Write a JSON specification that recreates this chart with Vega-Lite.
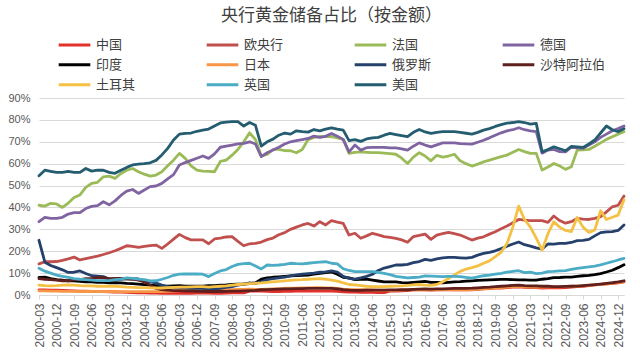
{
  "$schema": "https://vega.github.io/schema/vega-lite/v6.json",
  "autosize": {"type": "none"},
  "width": 585,
  "height": 197,
  "padding": {"left": 39, "top": 98, "right": 16, "bottom": 68},
  "background": "white",
  "title": {
    "text": "央行黄金储备占比（按金额）",
    "font": "Noto Sans CJK SC",
    "fontSize": 17,
    "fontWeight": "normal",
    "color": "#404040",
    "anchor": "middle",
    "frame": "group",
    "offset": 10
  },
  "config": {
    "view": {"stroke": null},
    "font": "Noto Sans CJK SC"
  },
  "data": {
    "values": [
      {"d":"2000-03","中国":2.3,"欧央行":14.2,"法国":41,"德国":33.5,"印度":8,"日本":1.9,"俄罗斯":25,"沙特阿拉伯":7.5,"土耳其":4.5,"英国":12.2,"美国":54.5},
      {"d":"2000-06","中国":2.3,"欧央行":15.2,"法国":40.6,"德国":35.5,"印度":8.2,"日本":1.9,"俄罗斯":15,"沙特阿拉伯":7.2,"土耳其":4.3,"英国":10.9,"美国":57},
      {"d":"2000-09","中国":2.2,"欧央行":15.2,"法国":41.9,"德国":35,"印度":7.5,"日本":1.8,"俄罗斯":13.5,"沙特阿拉伯":7,"土耳其":4.2,"英国":10,"美国":56.5},
      {"d":"2000-12","中国":2.2,"欧央行":15.3,"法国":41.6,"德国":35,"印度":7,"日本":1.8,"俄罗斯":12.5,"沙特阿拉伯":6.8,"土耳其":4.3,"英国":9.1,"美国":56},
      {"d":"2001-03","中国":2.1,"欧央行":15.8,"法国":40,"德国":35.5,"印度":6.8,"日本":1.7,"俄罗斯":11.5,"沙特阿拉伯":6.5,"土耳其":4.5,"英国":8.5,"美国":56},
      {"d":"2001-06","中国":2.0,"欧央行":16.5,"法国":42,"德国":37,"印度":6.5,"日本":1.7,"俄罗斯":10.3,"沙特阿拉伯":6.5,"土耳其":4.6,"英国":8,"美国":56.5},
      {"d":"2001-09","中国":1.9,"欧央行":17.3,"法国":44.5,"德国":37.6,"印度":6.5,"日本":1.7,"俄罗斯":10.4,"沙特阿拉伯":7,"土耳其":4.5,"英国":7.5,"美国":56},
      {"d":"2001-12","中国":1.8,"欧央行":16,"法国":45.7,"德国":37.6,"印度":6.2,"日本":1.6,"俄罗斯":11,"沙特阿拉伯":7,"土耳其":4.3,"英国":7.2,"美国":56},
      {"d":"2002-03","中国":1.8,"欧央行":16.6,"法国":49.2,"德国":39.5,"印度":6,"日本":1.6,"俄罗斯":9.8,"沙特阿拉伯":7.5,"土耳其":4.2,"英国":7,"美国":57.8},
      {"d":"2002-06","中国":1.7,"欧央行":17.2,"法国":51,"德国":40.5,"印度":6,"日本":1.6,"俄罗斯":8.8,"沙特阿拉伯":7.5,"土耳其":4.2,"英国":6.8,"美国":56.6},
      {"d":"2002-09","中国":1.6,"欧央行":17.8,"法国":51.5,"德国":40.8,"印度":5.8,"日本":1.6,"俄罗斯":8.6,"沙特阿拉伯":8,"土耳其":4,"英国":6.6,"美国":57},
      {"d":"2002-12","中国":1.5,"欧央行":18.5,"法国":54,"德国":42.6,"印度":5.8,"日本":1.6,"俄罗斯":8.4,"沙特阿拉伯":7.8,"土耳其":4,"英国":6.6,"美国":57},
      {"d":"2003-03","中国":1.4,"欧央行":19.3,"法国":54.3,"德国":41.2,"印度":5.6,"日本":1.6,"俄罗斯":7.3,"沙特阿拉伯":7.5,"土耳其":4,"英国":6.6,"美国":56},
      {"d":"2003-06","中国":1.3,"欧央行":20.2,"法国":53.3,"德国":43,"印度":5.6,"日本":1.6,"俄罗斯":7,"沙特阿拉伯":7.6,"土耳其":4,"英国":7,"美国":55.6},
      {"d":"2003-09","中国":1.3,"欧央行":21.3,"法国":55.5,"德国":45.5,"印度":5.5,"日本":1.5,"俄罗斯":7.2,"沙特阿拉伯":7.6,"土耳其":3.8,"英国":7.3,"美国":57},
      {"d":"2003-12","中国":1.2,"欧央行":22.5,"法国":57,"德国":47.5,"印度":5.3,"日本":1.5,"俄罗斯":7.4,"沙特阿拉伯":7.4,"土耳其":3.6,"英国":7.8,"美国":58.3},
      {"d":"2004-03","中国":1.1,"欧央行":22.2,"法国":57.8,"德国":48.2,"印度":5.2,"日本":1.5,"俄罗斯":7.5,"沙特阿拉伯":7.2,"土耳其":3.5,"英国":7.6,"美国":59.4},
      {"d":"2004-06","中国":1.0,"欧央行":21.8,"法国":56.3,"德国":46.4,"印度":5,"日本":1.5,"俄罗斯":7.3,"沙特阿拉伯":6.8,"土耳其":3.4,"英国":7.3,"美国":59.8},
      {"d":"2004-09","中国":1.0,"欧央行":22.2,"法国":55.2,"德国":48,"印度":4.7,"日本":1.5,"俄罗斯":6.5,"沙特阿拉伯":6,"土耳其":3.4,"英国":7,"美国":60},
      {"d":"2004-12","中国":0.9,"欧央行":22.6,"法国":54.3,"德国":49.5,"印度":4.5,"日本":1.5,"俄罗斯":6,"沙特阿拉伯":4.5,"土耳其":3.3,"英国":6.4,"美国":60.4},
      {"d":"2005-03","中国":0.9,"欧央行":22.8,"法国":54.8,"德国":49.8,"印度":4.3,"日本":1.5,"俄罗斯":5.5,"沙特阿拉伯":3,"土耳其":3.2,"英国":6.5,"美国":61.5},
      {"d":"2005-06","中国":0.8,"欧央行":21.3,"法国":56.3,"德国":51,"印度":4,"日本":1.6,"俄罗斯":4.5,"沙特阿拉伯":2.5,"土耳其":3.2,"英国":7.2,"美国":64},
      {"d":"2005-09","中国":0.8,"欧央行":23.3,"法国":59,"德国":53,"印度":4,"日本":1.7,"俄罗斯":3.8,"沙特阿拉伯":2.2,"土耳其":3.4,"英国":8,"美国":67},
      {"d":"2005-12","中国":0.8,"欧央行":25.5,"法国":61.6,"德国":55,"印度":4.2,"日本":1.8,"俄罗斯":3.5,"沙特阿拉伯":2,"土耳其":3.5,"英国":9,"美国":70.8},
      {"d":"2006-03","中国":0.8,"欧央行":27.7,"法国":64.7,"德国":59.4,"印度":4.3,"日本":2.0,"俄罗斯":3.5,"沙特阿拉伯":2,"土耳其":3.6,"英国":9.5,"美国":73.5},
      {"d":"2006-06","中国":0.8,"欧央行":26.2,"法国":62.4,"德国":60.5,"印度":4.1,"日本":2.1,"俄罗斯":3.2,"沙特阿拉伯":1.8,"土耳其":3.6,"英国":9.6,"美国":73.8},
      {"d":"2006-09","中国":0.8,"欧央行":25.2,"法国":59,"德国":61.5,"印度":4,"日本":2.1,"俄罗斯":3,"沙特阿拉伯":1.8,"土耳其":3.7,"英国":9.6,"美国":74},
      {"d":"2006-12","中国":0.9,"欧央行":25.2,"法国":57,"德国":62.5,"印度":4,"日本":2.2,"俄罗斯":3,"沙特阿拉伯":1.7,"土耳其":3.8,"英国":9.6,"美国":74.8},
      {"d":"2007-03","中国":0.9,"欧央行":25.2,"法国":56.6,"德国":63.5,"印度":4.1,"日本":2.3,"俄罗斯":3,"沙特阿拉伯":1.7,"土耳其":3.8,"英国":9.5,"美国":75.3},
      {"d":"2007-06","中国":0.9,"欧央行":23.4,"法国":56.5,"德国":62.4,"印度":4.3,"日本":2.2,"俄罗斯":2.8,"沙特阿拉伯":1.6,"土耳其":3.6,"英国":8.4,"美国":75.8},
      {"d":"2007-09","中国":0.8,"欧央行":25.6,"法国":56.3,"德国":64.5,"印度":4.3,"日本":2.2,"俄罗斯":2.8,"沙特阿拉伯":1.6,"土耳其":3.8,"英国":9.8,"美国":77.2},
      {"d":"2007-12","中国":0.8,"欧央行":26,"法国":61,"德国":67.5,"印度":4.5,"日本":2.3,"俄罗斯":3,"沙特阿拉伯":1.6,"土耳其":4,"英国":11,"美国":78.6},
      {"d":"2008-03","中国":0.9,"欧央行":26.5,"法国":61.6,"德国":68,"印度":4.6,"日本":2.4,"俄罗斯":3.5,"沙特阿拉伯":1.7,"土耳其":4.2,"英国":11.6,"美国":79},
      {"d":"2008-06","中国":1.0,"欧央行":26.7,"法国":63.9,"德国":68.5,"印度":4.8,"日本":2.5,"俄罗斯":3.8,"沙特阿拉伯":1.8,"土耳其":4.5,"英国":13,"美国":79.2},
      {"d":"2008-09","中国":1.0,"欧央行":24.5,"法国":66.5,"德国":69,"印度":5,"日本":2.6,"俄罗斯":4.5,"沙特阿拉伯":1.8,"土耳其":4.8,"英国":14,"美国":79.2},
      {"d":"2008-12","中国":1.0,"欧央行":22.5,"法国":70,"德国":69.3,"印度":5,"日本":2.6,"俄罗斯":5,"沙特阿拉伯":1.9,"土耳其":5,"英国":14.3,"美国":77.2},
      {"d":"2009-03","中国":1.8,"欧央行":23.4,"法国":74.1,"德国":70,"印度":5.2,"日本":2.7,"俄罗斯":5.5,"沙特阿拉伯":2,"土耳其":5.2,"英国":14.5,"美国":78.8},
      {"d":"2009-06","中国":1.8,"欧央行":23.6,"法国":71,"德国":69,"印度":5.5,"日本":2.6,"俄罗斯":5.3,"沙特阿拉伯":2.1,"土耳其":5.3,"英国":13.2,"美国":77.5},
      {"d":"2009-09","中国":1.8,"欧央行":24.2,"法国":63.5,"德国":63.2,"印度":7.2,"日本":2.6,"俄罗斯":6,"沙特阿拉伯":2.4,"土耳其":5.5,"英国":11.9,"美国":68},
      {"d":"2009-12","中国":1.7,"欧央行":25.3,"法国":64.2,"德国":65,"印度":7.8,"日本":2.7,"俄罗斯":7,"沙特阿拉伯":2.5,"土耳其":5.8,"英国":13.7,"美国":70},
      {"d":"2010-03","中国":1.6,"欧央行":26,"法国":66.5,"德国":66.2,"印度":8.1,"日本":2.8,"俄罗斯":7.5,"沙特阿拉伯":2.6,"土耳其":6,"英国":13.5,"美国":71.2},
      {"d":"2010-06","中国":1.6,"欧央行":27.5,"法国":66.5,"德国":67.5,"印度":8.3,"日本":2.9,"俄罗斯":7.8,"沙特阿拉伯":2.7,"土耳其":6.2,"英国":13.7,"美国":73},
      {"d":"2010-09","中国":1.7,"欧央行":28.5,"法国":66,"德国":69,"印度":8.5,"日本":3.0,"俄罗斯":8.2,"沙特阿拉伯":2.8,"土耳其":6.5,"英国":14,"美国":74},
      {"d":"2010-12","中国":1.7,"欧央行":30,"法国":65.9,"德国":70,"印度":8.7,"日本":3.1,"俄罗斯":8.7,"沙特阿拉伯":2.8,"土耳其":6.7,"英国":14.5,"美国":73.5},
      {"d":"2011-03","中国":1.8,"欧央行":31,"法国":65,"德国":70.5,"印度":8.9,"日本":3.1,"俄罗斯":9.2,"沙特阿拉伯":2.9,"土耳其":6.9,"英国":14.3,"美国":75},
      {"d":"2011-06","中国":1.8,"欧央行":32,"法国":66.5,"德国":71,"印度":9,"日本":3.2,"俄罗斯":9.5,"沙特阿拉伯":2.9,"土耳其":7,"英国":14.2,"美国":74.6},
      {"d":"2011-09","中国":1.8,"欧央行":32.7,"法国":71,"德国":71.5,"印度":9.1,"日本":3.3,"俄罗斯":9.8,"沙特阿拉伯":3,"土耳其":7.2,"英国":14.5,"美国":74.4},
      {"d":"2011-12","中国":1.8,"欧央行":31.5,"法国":72,"德国":72.6,"印度":9.5,"日本":3.4,"俄罗斯":10,"沙特阿拉伯":3,"土耳其":7.4,"英国":14.8,"美国":75.6},
      {"d":"2012-03","中国":1.8,"欧央行":33.5,"法国":72.3,"德国":72,"印度":9.9,"日本":3.4,"俄罗斯":10.4,"沙特阿拉伯":3,"土耳其":7.5,"英国":15,"美国":75},
      {"d":"2012-06","中国":1.8,"欧央行":32,"法国":72.5,"德国":72.5,"印度":10.2,"日本":3.3,"俄罗斯":10.6,"沙特阿拉伯":3,"土耳其":7.2,"英国":15.2,"美国":75.8},
      {"d":"2012-09","中国":1.8,"欧央行":34,"法国":72.3,"德国":73.8,"印度":10.5,"日本":3.2,"俄罗斯":11,"沙特阿拉伯":3,"土耳其":6.8,"英国":14.5,"美国":76.4},
      {"d":"2012-12","中国":1.7,"欧央行":33.3,"法国":71.8,"德国":72.5,"印度":9.5,"日本":3.0,"俄罗斯":10.5,"沙特阿拉伯":2.8,"土耳其":6.3,"英国":14.2,"美国":75.8},
      {"d":"2013-03","中国":1.4,"欧央行":32.7,"法国":71.1,"德国":71.1,"印度":8.1,"日本":2.7,"俄罗斯":8.5,"沙特阿拉伯":2.4,"土耳其":5.5,"英国":12,"美国":75.3},
      {"d":"2013-06","中国":1.3,"欧央行":27.4,"法国":64.7,"德国":65.4,"印度":7.8,"日本":2.6,"俄罗斯":7.6,"沙特阿拉伯":2.2,"土耳其":4.8,"英国":11.2,"美国":70.5},
      {"d":"2013-09","中国":1.3,"欧央行":28.2,"法国":65.2,"德国":68.5,"印度":7,"日本":2.5,"俄罗斯":7.2,"沙特阿拉伯":2.1,"土耳其":4.6,"英国":10.7,"美国":71},
      {"d":"2013-12","中国":1.2,"欧央行":25.9,"法国":65.4,"德国":66.2,"印度":7.2,"日本":2.5,"俄罗斯":7.8,"沙特阿拉伯":2.1,"土耳其":4.3,"英国":10.7,"美国":70.2},
      {"d":"2014-03","中国":1.2,"欧央行":27,"法国":65.2,"德国":67.3,"印度":7.2,"日本":2.4,"俄罗斯":8.5,"沙特阿拉伯":2.2,"土耳其":4,"英国":10.7,"美国":71.3},
      {"d":"2014-06","中国":1.2,"欧央行":28.2,"法国":65,"德国":67.4,"印度":6.8,"日本":2.3,"俄罗斯":9.5,"沙特阿拉伯":2.2,"土耳其":3.8,"英国":10.7,"美国":71.8},
      {"d":"2014-09","中国":1.1,"欧央行":27.5,"法国":65,"德国":67.4,"印度":6.4,"日本":2.2,"俄罗斯":11.2,"沙特阿拉伯":2.2,"土耳其":3.8,"英国":10.3,"美国":72},
      {"d":"2014-12","中国":1.1,"欧央行":26.7,"法国":64.8,"德国":67.4,"印度":6,"日本":2.2,"俄罗斯":12.3,"沙特阿拉伯":2.2,"土耳其":3.8,"英国":9.9,"美国":73},
      {"d":"2015-03","中国":1.8,"欧央行":26.3,"法国":64.6,"德国":67.2,"印度":6,"日本":2.1,"俄罗斯":13,"沙特阿拉伯":2.3,"土耳其":4,"英国":9.3,"美国":73.8},
      {"d":"2015-06","中国":1.8,"欧央行":25.9,"法国":64.3,"德国":67.2,"印度":6,"日本":2.1,"俄罗斯":13.7,"沙特阿拉伯":2.3,"土耳其":4.1,"英国":8.5,"美国":73.3},
      {"d":"2015-09","中国":1.9,"欧央行":25.2,"法国":62.5,"德国":66.8,"印度":5.7,"日本":2.2,"俄罗斯":13.7,"沙特阿拉伯":2.4,"土耳其":4.2,"英国":8.2,"美国":72.8},
      {"d":"2015-12","中国":2.0,"欧央行":24.1,"法国":60.1,"德国":66.2,"印度":5.5,"日本":2.3,"俄罗斯":14,"沙特阿拉伯":2.4,"土耳其":4.4,"英国":7.8,"美国":72.3},
      {"d":"2016-03","中国":2.3,"欧央行":26.7,"法国":63,"德国":68,"印度":5.8,"日本":2.4,"俄罗斯":14.8,"沙特阿拉伯":2.6,"土耳其":4.6,"英国":8,"美国":74.3},
      {"d":"2016-06","中国":2.4,"欧央行":27.2,"法国":65,"德国":69.5,"印度":6,"日本":2.5,"俄罗斯":15.3,"沙特阿拉伯":2.7,"土耳其":4.8,"英国":8.2,"美国":75.6},
      {"d":"2016-09","中国":2.3,"欧央行":27.8,"法国":63.5,"德国":68.5,"印度":6.2,"日本":2.3,"俄罗斯":16.3,"沙特阿拉伯":2.8,"土耳其":4.5,"英国":8.7,"美国":74.5},
      {"d":"2016-12","中国":2.2,"欧央行":25.4,"法国":61.3,"德国":67.7,"印度":5.8,"日本":2.3,"俄罗斯":15.8,"沙特阿拉伯":2.7,"土耳其":4.4,"英国":8.6,"美国":73.8},
      {"d":"2017-03","中国":2.3,"欧央行":27.4,"法国":63.8,"德国":68.6,"印度":5.7,"日本":2.4,"俄罗斯":16.5,"沙特阿拉伯":2.8,"土耳其":4.8,"英国":8.5,"美国":74.3},
      {"d":"2017-06","中国":2.3,"欧央行":28,"法国":63,"德国":69.5,"印度":5.6,"日本":2.5,"俄罗斯":17,"沙特阿拉伯":2.8,"土耳其":6,"英国":8.4,"美国":74.6},
      {"d":"2017-09","中国":2.3,"欧央行":28.6,"法国":63.5,"德国":69.5,"印度":5.8,"日本":2.5,"俄罗斯":17.2,"沙特阿拉伯":2.9,"土耳其":7.5,"英国":8.5,"美国":74.6},
      {"d":"2017-12","中国":2.4,"欧央行":28,"法国":64.3,"德国":69.5,"印度":6,"日本":2.4,"俄罗斯":17.2,"沙特阿拉伯":3,"土耳其":9.2,"英国":8.5,"美国":74.6},
      {"d":"2018-03","中国":2.3,"欧央行":27.4,"法国":61.3,"德国":69.2,"印度":6.1,"日本":2.4,"俄罗斯":17,"沙特阿拉伯":3,"土耳其":10.8,"英国":8.4,"美国":74.3},
      {"d":"2018-06","中国":2.3,"欧央行":26.3,"法国":60,"德国":69,"印度":6.3,"日本":2.4,"俄罗斯":16.8,"沙特阿拉伯":3,"土耳其":11.8,"英国":8,"美国":73.9},
      {"d":"2018-09","中国":2.4,"欧央行":25.1,"法国":58.9,"德国":68.9,"印度":6.5,"日本":2.5,"俄罗斯":17.2,"沙特阿拉伯":3.1,"土耳其":12.5,"英国":7.7,"美国":73.5},
      {"d":"2018-12","中国":2.6,"欧央行":26,"法国":59.8,"德国":69.8,"印度":6.7,"日本":2.7,"俄罗斯":18.2,"沙特阿拉伯":3.3,"土耳其":13.3,"英国":8.3,"美国":74.3},
      {"d":"2019-03","中国":2.8,"欧央行":26.6,"法国":60.8,"德国":70.7,"印度":6.8,"日本":2.8,"俄罗斯":19,"沙特阿拉伯":3.5,"土耳其":14.5,"英国":8.8,"美国":75.3},
      {"d":"2019-06","中国":2.9,"欧央行":27.8,"法国":61.6,"德国":71.8,"印度":6.9,"日本":3.0,"俄罗斯":19.5,"沙特阿拉伯":3.6,"土耳其":15.6,"英国":9.1,"美国":76},
      {"d":"2019-09","中国":3.1,"欧央行":28.9,"法国":62.4,"德国":73,"印度":7,"日本":3.2,"俄罗斯":20.2,"沙特阿拉伯":3.8,"土耳其":17.5,"英国":9.5,"美国":77},
      {"d":"2019-12","中国":3.2,"欧央行":30.3,"法国":63.2,"德国":74.1,"印度":7.1,"日本":3.4,"俄罗斯":21.2,"沙特阿拉伯":4,"土耳其":19.5,"英国":9.9,"美国":77.8},
      {"d":"2020-03","中国":3.4,"欧央行":31.5,"法国":63.9,"德国":75,"印度":7.1,"日本":3.6,"俄罗斯":22.3,"沙特阿拉伯":4.2,"土耳其":23.5,"英国":10.4,"美国":78.5},
      {"d":"2020-06","中国":3.6,"欧央行":33,"法国":65.2,"德国":75.5,"印度":7,"日本":3.8,"俄罗斯":23.3,"沙特阿拉伯":4.4,"土耳其":31,"英国":10.8,"美国":78.8},
      {"d":"2020-09","中国":3.7,"欧央行":34.5,"法国":66.5,"德国":76.4,"印度":6.9,"日本":3.9,"俄罗斯":24.2,"沙特阿拉伯":4.5,"土耳其":40.6,"英国":11.1,"美国":79.2},
      {"d":"2020-12","中国":3.5,"欧央行":34.2,"法国":65.5,"德国":75.5,"印度":6.9,"日本":3.7,"俄罗斯":23,"沙特阿拉伯":4.3,"土耳其":34.5,"英国":10.2,"美国":78.8},
      {"d":"2021-03","中国":3.4,"欧央行":34,"法国":64.7,"德国":75,"印度":6.8,"日本":3.6,"俄罗斯":22.3,"沙特阿拉伯":4.2,"土耳其":31,"英国":10.4,"美国":78.1},
      {"d":"2021-06","中国":3.4,"欧央行":34,"法国":64.7,"德国":74.6,"印度":6.8,"日本":3.7,"俄罗斯":21.5,"沙特阿拉伯":4.2,"土耳其":26,"英国":9.8,"美国":78.4},
      {"d":"2021-09","中国":3.2,"欧央行":34,"法国":57.1,"德国":64.8,"印度":7.2,"日本":3.6,"俄罗斯":21,"沙特阿拉伯":4,"土耳其":20.5,"英国":10,"美国":65.4},
      {"d":"2021-12","中国":3.3,"欧央行":33.2,"法国":58.5,"德国":66.2,"印度":7.5,"日本":3.7,"俄罗斯":23.3,"沙特阿拉伯":4,"土耳其":28,"英国":10.7,"美国":66.5},
      {"d":"2022-03","中国":3.3,"欧央行":36.1,"法国":60.1,"德国":66.5,"印度":7.9,"日本":3.7,"俄罗斯":23.2,"沙特阿拉伯":3.8,"土耳其":33.5,"英国":10.8,"美国":67.7},
      {"d":"2022-06","中国":3.3,"欧央行":34,"法国":59,"德国":65.5,"印度":8,"日本":3.7,"俄罗斯":23.6,"沙特阿拉伯":3.8,"土耳其":31,"英国":11,"美国":66.8},
      {"d":"2022-09","中国":3.4,"欧央行":32.8,"法国":57.4,"德国":65.4,"印度":8.2,"日本":3.8,"俄罗斯":23.6,"沙特阿拉伯":3.9,"土耳其":29.5,"英国":11.1,"美国":65.9},
      {"d":"2022-12","中国":3.6,"欧央行":33.5,"法国":58.6,"德国":67.5,"印度":8.2,"日本":4.0,"俄罗斯":24,"沙特阿拉伯":4,"土耳其":29,"英国":11.7,"美国":67.9},
      {"d":"2023-03","中国":3.8,"欧央行":35,"法国":66.2,"德国":67.2,"印度":8.5,"日本":4.0,"俄罗斯":24.8,"沙特阿拉伯":4.1,"土耳其":35.4,"英国":12.2,"美国":67.7},
      {"d":"2023-06","中国":4.0,"欧央行":34.7,"法国":66.3,"德国":67,"印度":8.8,"日本":4.2,"俄罗斯":25,"沙特阿拉伯":4.3,"土耳其":31,"英国":12.5,"美国":67.4},
      {"d":"2023-09","中国":4.3,"欧央行":34.5,"法国":66.5,"德国":68.5,"印度":9,"日本":4.4,"俄罗斯":25.4,"沙特阿拉伯":4.5,"土耳其":28.6,"英国":12.8,"美国":69},
      {"d":"2023-12","中国":4.6,"欧央行":35,"法国":68,"德国":70,"印度":9.3,"日本":4.6,"俄罗斯":27,"沙特阿拉伯":4.7,"土耳其":29.7,"英国":13.2,"美国":70.8},
      {"d":"2024-03","中国":4.9,"欧央行":35.8,"法国":69.5,"德国":72,"印度":9.8,"日本":4.9,"俄罗斯":28.5,"沙特阿拉伯":5,"土耳其":38.5,"英国":13.8,"美国":74},
      {"d":"2024-06","中国":5.1,"欧央行":38,"法国":71.1,"德国":73.5,"印度":10.5,"日本":5.0,"俄罗斯":28.8,"沙特阿拉伯":5.3,"土耳其":34.5,"英国":14.5,"美国":77.2},
      {"d":"2024-09","中国":5.3,"欧央行":40.3,"法国":72.3,"德国":75,"印度":11.3,"日本":5.3,"俄罗斯":29,"沙特阿拉伯":5.6,"土耳其":35.5,"英国":15.2,"美国":75.5},
      {"d":"2024-12","中国":5.6,"欧央行":41,"法国":73.5,"德国":76,"印度":12.5,"日本":5.6,"俄罗斯":29.5,"沙特阿拉伯":6,"土耳其":36.5,"英国":16,"美国":74.6},
      {"d":"2025-03","中国":6.0,"欧央行":45.2,"法国":74.6,"德国":77.2,"印度":13.8,"日本":6.2,"俄罗斯":32,"沙特阿拉伯":6.5,"土耳其":43.5,"英国":16.7,"美国":76}
    ]
  },
  "transform": [
    {"fold": ["中国","欧央行","法国","德国","印度","日本","俄罗斯","沙特阿拉伯","土耳其","英国","美国"], "as": ["国家","占比"]}
  ],
  "mark": {"type": "line", "strokeWidth": 2.8, "strokeJoin": "round", "strokeCap": "round"},
  "encoding": {
    "x": {
      "field": "d",
      "type": "ordinal",
      "scale": {"type": "point", "padding": 0},
      "axis": {
        "title": null,
        "values": ["2000-03","2000-12","2001-09","2002-06","2003-03","2003-12","2004-09","2005-06","2006-03","2006-12","2007-09","2008-06","2009-03","2009-12","2010-09","2011-06","2012-03","2012-12","2013-09","2014-06","2015-03","2015-12","2016-09","2017-06","2018-03","2018-12","2019-09","2020-06","2021-03","2021-12","2022-09","2023-06","2024-03","2024-12"],
        "labelAngle": 270,
        "labelAlign": "right",
        "labelBaseline": "middle",
        "labelFontSize": 12,
        "labelColor": "#595959",
        "labelFont": "Liberation Sans",
        "labelPadding": 4,
        "domainColor": "#D9D9D9",
        "tickColor": "#D9D9D9",
        "tickSize": 4,
        "grid": false
      }
    },
    "y": {
      "field": "占比",
      "type": "quantitative",
      "scale": {"domain": [0, 90], "nice": false},
      "axis": {
        "title": null,
        "values": [0,10,20,30,40,50,60,70,80,90],
        "labelExpr": "datum.value + '%'",
        "labelFontSize": 11,
        "labelColor": "#595959",
        "labelFont": "Liberation Sans",
        "labelPadding": 9,
        "domain": false,
        "ticks": false,
        "gridColor": "#D9D9D9",
        "gridWidth": 1
      }
    },
    "color": {
      "field": "国家",
      "type": "nominal",
      "scale": {
        "domain": ["中国","欧央行","法国","德国","印度","日本","俄罗斯","沙特阿拉伯","土耳其","英国","美国"],
        "range": ["#E2302A","#C0504D","#9BBB59","#8064A2","#000000","#F79646","#25406B","#5E1F1D","#F4C145","#4BACC6","#245C70"]
      },
      "legend": {
        "title": null,
        "orient": "none",
        "legendX": 18,
        "legendY": -63,
        "direction": "horizontal",
        "columns": 4,
        "gridAlign": "all",
        "columnPadding": 43,
        "rowPadding": 0,
        "padding": 0,
        "clipHeight": 19.5,
        "symbolType": "stroke",
        "symbolSize": 1000,
        "symbolStrokeWidth": 3,
        "labelFont": "Noto Sans CJK SC",
        "labelFontSize": 13,
        "labelColor": "#404040",
        "labelOffset": 4,
        "labelLimit": 200
      }
    }
  }
}
